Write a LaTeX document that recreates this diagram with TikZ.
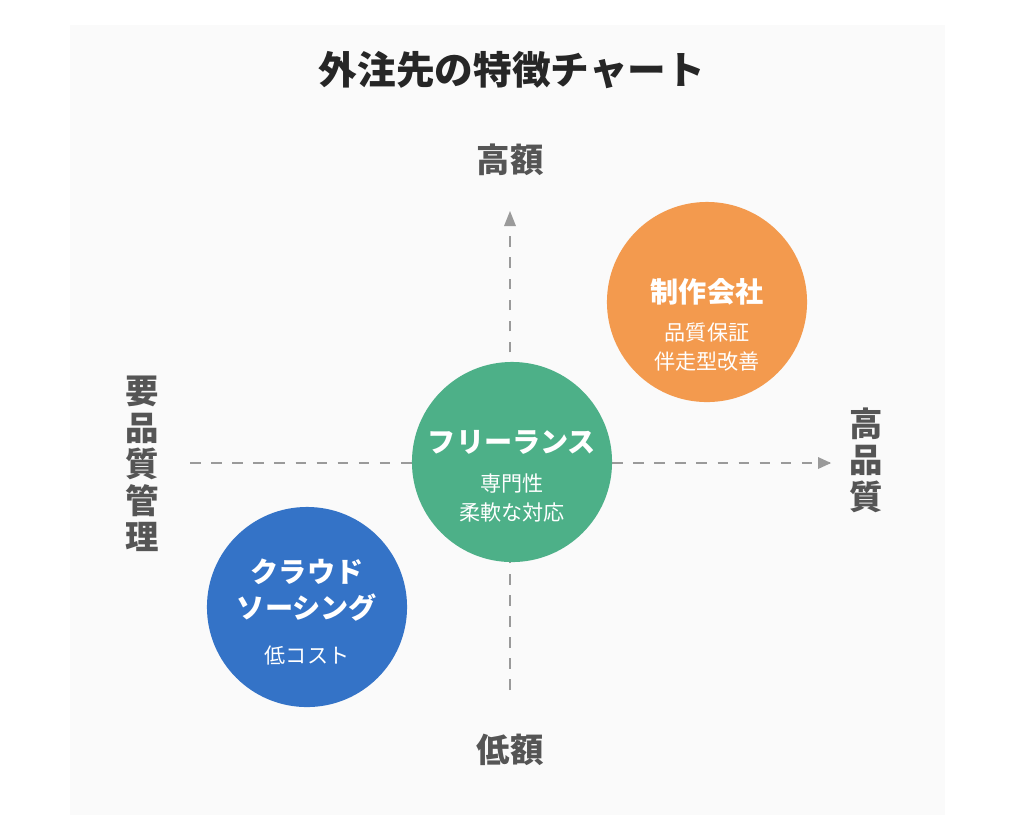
\documentclass[tikz,border=0pt]{standalone}
\usepackage{fontspec}
\setmainfont{Noto Sans CJK JP}
\usetikzlibrary{positioning}
\definecolor{bgcol}{HTML}{FAFAFA}
\definecolor{axiscol}{HTML}{9A9A9A}
\definecolor{labelcol}{HTML}{555555}
\definecolor{orangecol}{HTML}{F39A4E}
\definecolor{greencol}{HTML}{4DB088}
\definecolor{bluecol}{HTML}{3473C7}
\tikzset{
	axis/.style={draw=axiscol, dashed, line width=0.7pt},
	axislabel/.style={text=labelcol, font=\fontsize{9.5pt}{11pt}\selectfont\bfseries},
	sidelabel/.style={text=labelcol, align=center, font=\fontsize{9.5pt}{10.4pt}\selectfont\bfseries},
	bubble/.style={circle, minimum size=2cm, inner sep=0pt},
	bubbletitle/.style={text=white, font=\fontsize{8pt}{10pt}\selectfont\bfseries},
	bubbletext/.style={text=white, align=center, font=\fontsize{6pt}{8.5pt}\selectfont}
}
\begin{document}
\begin{tikzpicture}[x=0.01cm,y=-0.01cm]
	% Hintergrund
	\useasboundingbox[fill=white] (0,0) rectangle (1024,829);
	\fill[bgcol] (70,25) rectangle (945,815);
	% Titel
	\node[font=\fontsize{11pt}{13pt}\selectfont\bfseries, text=black!85] (title) at (512,70) {外注先の特徴チャート};
	% Achsen
	\node[axislabel] (high) at (510,160) {高額};
	\node[axislabel] (low) at (510,750) {低額};
	\node[sidelabel] (left) at (142,464) {要\\品\\質\\管\\理};
	\node[sidelabel] (right) at (866,460) {高\\品\\質};
	\coordinate (vbot) at (510,690);
	\coordinate (vtop) at (510,212);
	\coordinate (hleft) at (190,463);
	\coordinate (hright) at (830,463);
	\draw[axis] (vbot) -- (vtop);
	\draw[axis] (hleft) -- (hright);
	\fill[axiscol] (504,226) -- (510,211) -- (516,226) -- cycle;
	\fill[axiscol] (818,457) -- (831,463) -- (818,469) -- cycle;
	% Kreise
	\node[bubble, fill=orangecol] (agency) at (707,302) {};
	\node[bubble, fill=greencol] (freelance) at (512,462) {};
	\node[bubble, fill=bluecol] (crowd) at (307,607) {};
	% Texte
	\node[bubbletitle] at (707,292) {制作会社};
	\node[bubbletext] at (707,347) {品質保証\\伴走型改善};
	\node[bubbletitle] at (512,442) {フリーランス};
	\node[bubbletext] at (512,498) {専門性\\柔軟な対応};
	\node[bubbletitle, align=center] at (307,590) {クラウド\\ソーシング};
	\node[bubbletext] at (307,655) {低コスト};
\end{tikzpicture}
\end{document}
